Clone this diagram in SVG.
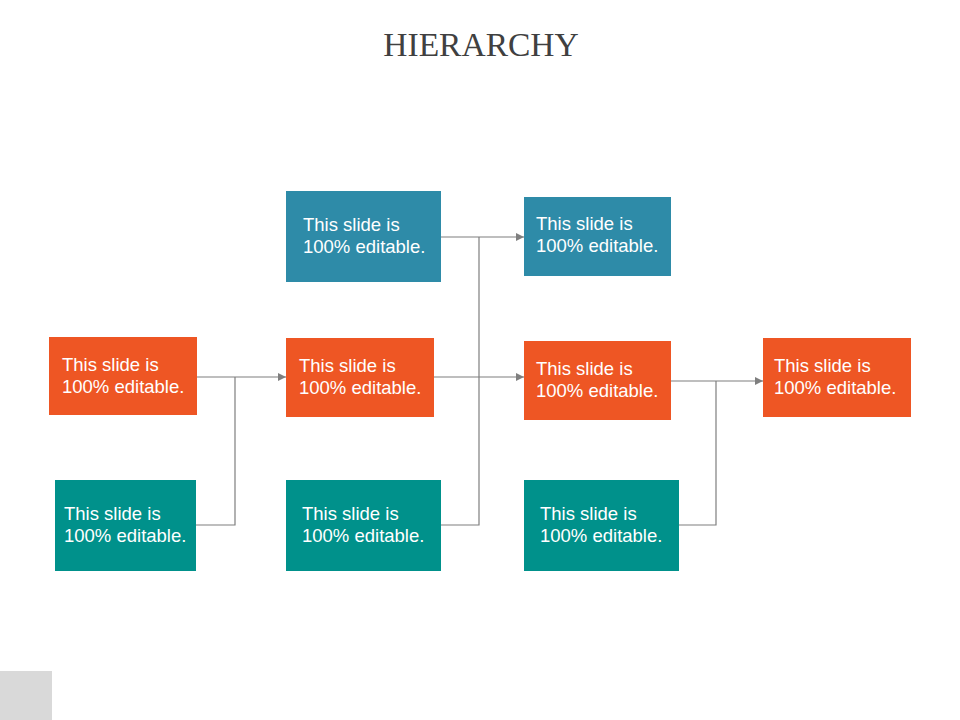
<svg xmlns="http://www.w3.org/2000/svg" width="960" height="720" viewBox="0 0 960 720">
<style>
.o{fill:#EE5624}.b{fill:#2E8BA8}.t{fill:#00918B}
.tx{font-family:"Liberation Sans",Arial,sans-serif;font-size:18.5px;fill:#fff}
.c{fill:none;stroke:#7F7F7F;stroke-width:1.2}
</style>
<defs><marker id="a" viewBox="0 0 10 10" refX="10" refY="5" markerWidth="8" markerHeight="8" orient="auto" markerUnits="userSpaceOnUse"><path d="M0,0 L10,5 L0,10 z" fill="#7F7F7F"/></marker></defs>
<rect width="960" height="720" fill="#fff"/>
<text x="481" y="56" text-anchor="middle" font-family="'Liberation Serif','Times New Roman',serif" font-size="33.5" fill="#404040">HIERARCHY</text>
<rect x="0" y="671" width="52" height="49" fill="#D9D9D9"/>
<g id="connectors">
<path class="c" d="M197,377 H286" marker-end="url(#a)"/>
<path class="c" d="M196,525 H235 V377"/>
<path class="c" d="M441,237 H524" marker-end="url(#a)"/>
<path class="c" d="M441,525 H479 V237"/>
<path class="c" d="M434,377 H524" marker-end="url(#a)"/>
<path class="c" d="M671,381 H763" marker-end="url(#a)"/>
<path class="c" d="M679,525 H716 V381"/>
</g>
<g id="n1"><rect class="o" x="49" y="337" width="148" height="78"/><text class="tx" x="62" y="371">This slide is</text><text class="tx" x="62" y="393">100% editable.</text></g>
<g id="n2"><rect class="t" x="55" y="480" width="141" height="91"/><text class="tx" x="64" y="520">This slide is</text><text class="tx" x="64" y="542">100% editable.</text></g>
<g id="n3"><rect class="b" x="286" y="191" width="155" height="91"/><text class="tx" x="303" y="231">This slide is</text><text class="tx" x="303" y="253">100% editable.</text></g>
<g id="n4"><rect class="o" x="286" y="338" width="148" height="79"/><text class="tx" x="299" y="372">This slide is</text><text class="tx" x="299" y="394">100% editable.</text></g>
<g id="n5"><rect class="t" x="286" y="480" width="155" height="91"/><text class="tx" x="302" y="520">This slide is</text><text class="tx" x="302" y="542">100% editable.</text></g>
<g id="n6"><rect class="b" x="524" y="197" width="147" height="79"/><text class="tx" x="536" y="230">This slide is</text><text class="tx" x="536" y="252">100% editable.</text></g>
<g id="n7"><rect class="o" x="524" y="341" width="147" height="79"/><text class="tx" x="536" y="375">This slide is</text><text class="tx" x="536" y="397">100% editable.</text></g>
<g id="n8"><rect class="t" x="524" y="480" width="155" height="91"/><text class="tx" x="540" y="520">This slide is</text><text class="tx" x="540" y="542">100% editable.</text></g>
<g id="n9"><rect class="o" x="763" y="338" width="148" height="79"/><text class="tx" x="774" y="372">This slide is</text><text class="tx" x="774" y="394">100% editable.</text></g>
</svg>
